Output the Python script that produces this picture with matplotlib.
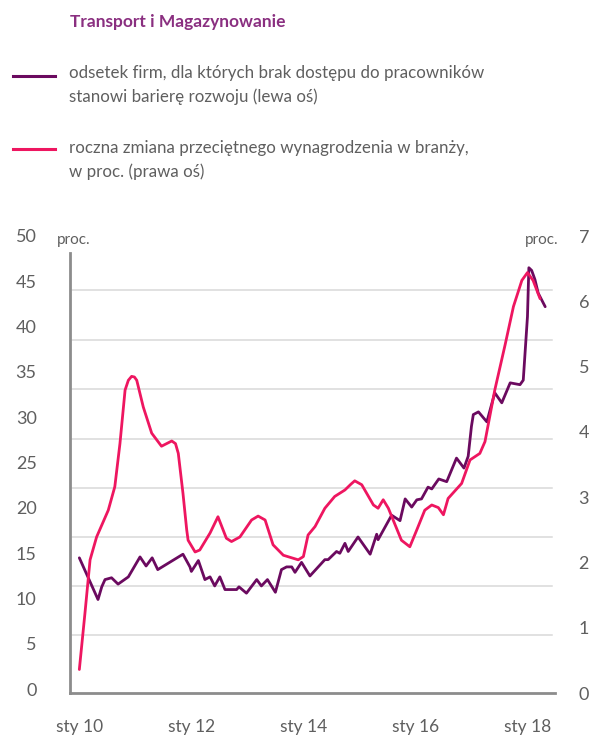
import matplotlib
matplotlib.use('Agg')
import matplotlib.pyplot as plt

# months counted from January 2010
purple_months = [0, 4.0, 4.8, 5.5, 6.9, 8.3, 10.5, 13.0, 14.3, 15.6, 16.8, 22.2, 23.7, 24.0,
                 25.5, 26.9, 28.0, 29.0, 30.1, 31.2, 33.7, 34.2, 35.8, 38.0, 39.0, 40.3,
                 42.0, 43.3, 44.4, 45.5, 46.2, 47.6, 49.4, 52.6, 53.3, 55.1, 55.8, 56.9,
                 57.6, 59.7, 62.3, 63.7, 64.0, 66.9, 68.7, 69.8, 71.2, 72.3, 73.3, 74.7,
                 75.5, 77.0, 78.7, 80.8, 82.4, 83.3, 84.0, 84.4, 85.5, 87.3, 89.0, 90.5, 92.3,
                 94.4, 95.1, 96.0, 96.3, 96.9, 97.6, 98.3, 99.8]
purple_values = [14.5, 9.9, 11.3, 12.1, 12.3, 11.6, 12.4, 14.6, 13.6, 14.5, 13.2, 14.9, 13.5, 13.0,
                 14.2, 12.1, 12.4, 11.4, 12.4, 11.0, 11.0, 11.3, 10.6, 12.1, 11.4, 12.1,
                 10.7, 13.2, 13.5, 13.5, 12.9, 14.0, 12.5, 14.3, 14.3, 15.2, 15.0, 16.1,
                 15.2, 16.8, 14.9, 17.1, 16.5, 19.2, 18.6, 21.0, 20.1, 20.9, 21.0, 22.3,
                 22.1, 23.2, 22.9, 25.5, 24.4, 25.7, 29.0, 30.3, 30.6, 29.5, 32.7, 31.6, 33.8,
                 33.6, 34.1, 41.1, 46.5, 46.2, 45.2, 43.7, 42.2]

pink_months = [0, 1.2, 2.3, 3.7, 6.2, 7.6, 8.7, 9.8, 10.5, 11.2, 11.8, 12.3, 13.7, 15.5, 17.6,
               19.8, 20.6, 21.2, 22.2, 23.0, 23.3, 24.8, 25.8, 28.0, 29.7, 31.5, 32.6, 34.4,
               36.9, 38.3, 39.8, 41.5, 43.7, 46.9, 48.0, 49.0, 50.5, 52.6, 54.7, 56.9, 58.2,
               59.0, 60.5, 63.0, 64.0, 65.1, 66.2, 69.0, 70.8, 72.3, 74.0, 75.5, 76.9, 78.0,
               79.0, 81.9, 83.7, 85.8, 86.9, 89.0, 91.2, 93.0, 94.8, 96.0, 97.2, 98.7]
pink_values = [0.36, 1.22, 2.04, 2.39, 2.80, 3.16, 3.82, 4.64, 4.79, 4.85, 4.84, 4.79, 4.38,
               3.98, 3.78, 3.86, 3.82, 3.67, 3.06, 2.50, 2.34, 2.16, 2.19, 2.45, 2.70, 2.37,
               2.32, 2.39, 2.65, 2.71, 2.65, 2.27, 2.11, 2.04, 2.09, 2.42, 2.55, 2.83, 3.01,
               3.11, 3.20, 3.25, 3.19, 2.88, 2.83, 2.96, 2.83, 2.34, 2.24, 2.50, 2.80, 2.88,
               2.84, 2.73, 2.98, 3.21, 3.57, 3.67, 3.85, 4.64, 5.33, 5.92, 6.32, 6.44, 6.32,
               6.04]

left_ticks = [0, 5, 10, 15, 20, 25, 30, 35, 40, 45, 50]
right_ticks = [0, 1, 2, 3, 4, 5, 6, 7]
x_ticks = [0, 24, 48, 72, 96]
x_labels = ['sty 10', 'sty 12', 'sty 14', 'sty 16', 'sty 18']
grid_levels = [5.96, 11.39, 16.77, 22.17, 27.64, 33.09, 38.53, 44.01]

PURPLE = '#6b0a5f'
PINK = '#ee1660'
TITLE_C = '#8a2f80'
GREY = '#5f5f5f'
AXIS_C = '#8c8c8c'

plt.rcParams['font.family'] = ['Lato', 'DejaVu Sans']

fig = plt.figure(figsize=(5.99, 7.36), dpi=100)

# header and legend
fig.text(70 / 599, 1 - 22 / 736, 'Transport i Magazynowanie', color=TITLE_C,
         fontsize=12.5, fontweight='bold', va='center', ha='left')
fig.add_artist(plt.Line2D([13 / 599, 55 / 599], [1 - 76 / 736] * 2, color=PURPLE, lw=2.2))
fig.add_artist(plt.Line2D([13 / 599, 55 / 599], [1 - 149 / 736] * 2, color=PINK, lw=2.2))
fig.text(69 / 599, 1 - 85 / 736,
         'odsetek firm, dla których brak dostępu do pracowników\nstanowi barierę rozwoju (lewa oś)',
         color=GREY, fontsize=12.2, va='center', ha='left', linespacing=1.5)
fig.text(69 / 599, 1 - 160 / 736,
         'roczna zmiana przeciętnego wynagrodzenia w branży,\nw proc. (prawa oś)',
         color=GREY, fontsize=12.2, va='center', ha='left', linespacing=1.5)

ax = fig.add_axes([70 / 599, 1 - 693 / 736, 485 / 599, 457 / 736])
ax2 = ax.twinx()

for y in grid_levels:
    ax.axhline(y, xmin=0.004, xmax=0.994, color='#d9d9d9', lw=1.1, zorder=0)

ax.plot(purple_months, purple_values, color=PURPLE, lw=2.0, zorder=3,
        solid_joinstyle='round', solid_capstyle='round')
ax2.plot(pink_months, pink_values, color=PINK, lw=2.0, zorder=2,
         solid_joinstyle='round', solid_capstyle='round')

ax.set_xlim(-2.0, 101.9)
ax.set_ylim(-0.41, 50)
ax2.set_ylim(0, 7)

for a in (ax, ax2):
    for s in ('top', 'right'):
        a.spines[s].set_visible(False)
    a.patch.set_visible(False)
ax2.spines['left'].set_visible(False)
ax2.spines['bottom'].set_visible(False)
ax.spines['left'].set_color(AXIS_C)
ax.spines['left'].set_linewidth(2)
ax.spines['left'].set_bounds(-0.41, 48.1)
ax.spines['bottom'].set_color(AXIS_C)
ax.spines['bottom'].set_linewidth(2)

ax.set_yticks(left_ticks)
ax.set_yticklabels([str(t) for t in left_ticks])
ax.tick_params(axis='y', length=0, pad=24, labelsize=13, labelcolor=GREY)
ax2.set_yticks(right_ticks)
ax2.set_yticklabels([str(t) for t in right_ticks])
ax2.tick_params(axis='y', length=0, pad=17, labelsize=13, labelcolor=GREY)
ax.set_xticks(x_ticks)
ax.set_xticklabels(x_labels)
ax.tick_params(axis='x', length=0, pad=19, labelsize=12.5, labelcolor=GREY)

fig.text(57 / 599, 1 - 240 / 736, 'proc.', color=GREY, fontsize=11, va='center', ha='left')
fig.text(558 / 599, 1 - 240 / 736, 'proc.', color=GREY, fontsize=11, va='center', ha='right')

fig.savefig('out.png', dpi=100)
